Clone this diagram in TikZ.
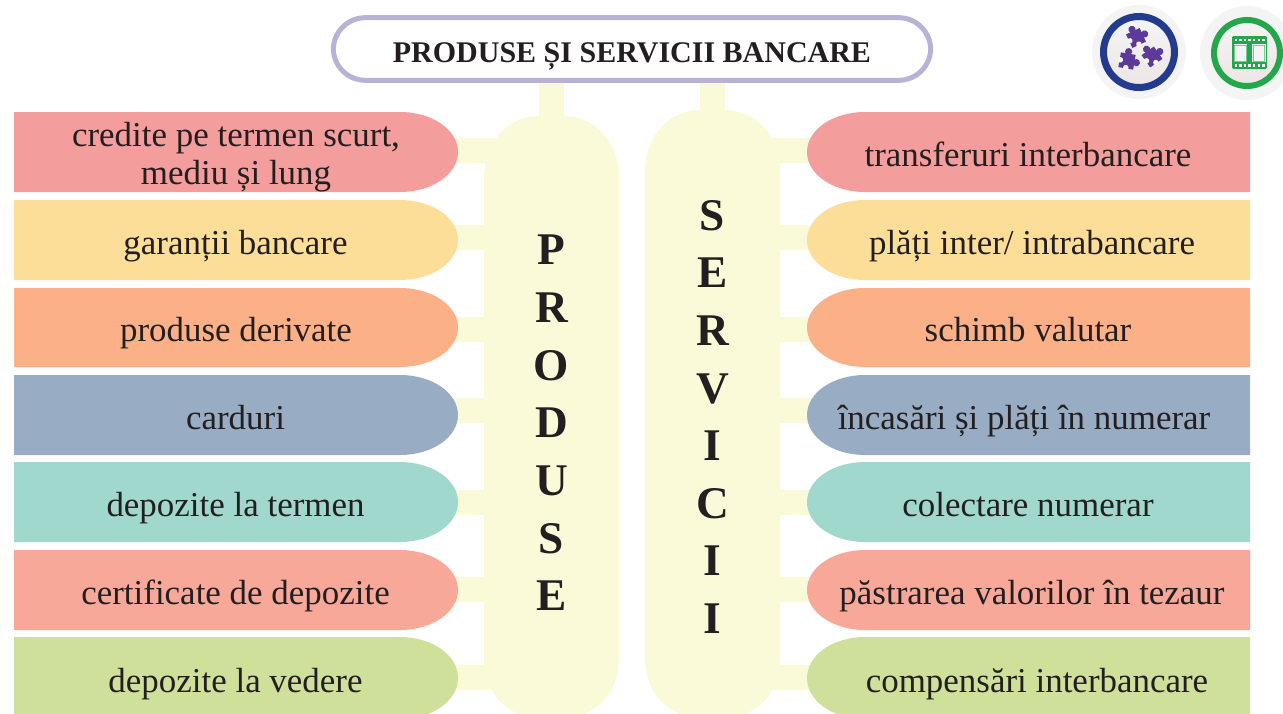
\documentclass[tikz,border=0pt]{standalone}
\usepackage{fontspec}
\setmainfont{Liberation Serif}
\definecolor{cream}{HTML}{FAFAD8}
\definecolor{frameL}{HTML}{B8B3D6}
\definecolor{cRed}{HTML}{F39D9C}
\definecolor{cYel}{HTML}{FDDE99}
\definecolor{cOra}{HTML}{FBB088}
\definecolor{cBlu}{HTML}{98ADC3}
\definecolor{cTea}{HTML}{A0D8CE}
\definecolor{cSal}{HTML}{F8A899}
\definecolor{cGrn}{HTML}{CFE09A}
\definecolor{ink}{HTML}{231F20}
\definecolor{purp}{HTML}{5B3A9B}
\definecolor{blueR}{HTML}{233B8F}
\definecolor{greenR}{HTML}{22A84B}
\definecolor{discTop}{HTML}{F4F4F4}
\definecolor{discBot}{HTML}{EDE6E6}
\tikzset{
  x=0.75pt,y=-0.75pt,
  label text/.style={font=\fontsize{26.2}{28.5}\selectfont,text=ink,align=center,inner sep=0pt,anchor=center,text height=19.5pt,text depth=0pt},
  letter/.style={font=\fontsize{34}{36}\selectfont\bfseries,text=ink,inner sep=0pt,anchor=base},
  link/.style={draw=cream,line width=18.75pt},
}
\newcommand{\leftpill}[7][1]{% text y offset, name, top, bottom, colour, text x, text
  \fill[#5] (14,#3) -- (400,#3) .. controls (432,#3) and (458,{#3+(#4-#3)*0.22}) .. (458,{(#3+#4)/2})
    .. controls (458,{#4-(#4-#3)*0.22}) and (432,#4) .. (400,#4) -- (14,#4) -- cycle;
  \node[label text] (#2) at (#6,{(#3+#4)/2+#1}) {#7};
}
\newcommand{\rightpill}[6]{%
  \fill[#4] (1250,#2) -- (865,#2) .. controls (833,#2) and (807,{#2+(#3-#2)*0.22}) .. (807,{(#2+#3)/2})
    .. controls (807,{#3-(#3-#2)*0.22}) and (833,#3) .. (865,#3) -- (1250,#3) -- cycle;
  \node[label text] (#1) at (#5,{(#2+#3)/2+1}) {#6};
}
\newcommand{\puzzle}[3]{% x y rot
  \begin{scope}[shift={(#1,#2)},rotate=#3]
    \fill[purp] (-7.5,-7.5) rectangle (7.5,7.5);
    \fill[purp] (0,-9.5) circle[radius=3.6];
    \fill[purp] (9.5,0) circle[radius=3.6];
    \fill[discTop] (0,6.8) circle[radius=2.8];
    \fill[discTop] (-6.8,0) circle[radius=2.8];
  \end{scope}
}
\begin{document}
\begin{tikzpicture}
\useasboundingbox (0,0) rectangle (1283,714);
\begin{scope}
\clip (0,0) rectangle (1283,714);
% stems
\coordinate (stemLa) at (551.5,80);
\coordinate (stemLb) at (551.5,125);
\coordinate (stemRa) at (712.5,80);
\coordinate (stemRb) at (712.5,120);
\draw[link] (stemLa) -- (stemLb);
\draw[link] (stemRa) -- (stemRb);
% capsules
\fill[cream] (539,116) .. controls (508,116) and (484,142) .. (484,178) -- (484,657)
  .. controls (484,693) and (508,718) .. (539,718) -- (564,718)
  .. controls (595,718) and (619,693) .. (619,657) -- (619,178)
  .. controls (619,142) and (595,116) .. (564,116) -- cycle;
\fill[cream] (700,110) .. controls (669,110) and (645,136) .. (645,172) -- (645,657)
  .. controls (645,693) and (669,718) .. (700,718) -- (725,718)
  .. controls (756,718) and (780,693) .. (780,657) -- (780,172)
  .. controls (780,136) and (756,110) .. (725,110) -- cycle;
% links
\foreach \n/\y in {a/150.5,b/237.5,c/329.5,d/410.5,e/502.5,f/589.5,g/677.5}{
  \coordinate (L\n) at (450,\y);
  \coordinate (Lp\n) at (500,\y);
  \coordinate (R\n) at (815,\y);
  \coordinate (Rp\n) at (765,\y);
  \draw[link] (L\n) -- (Lp\n);
  \draw[link] (R\n) -- (Rp\n);
}
% pills
\leftpill[19.5]{l1}{112}{192}{cRed}{236}{credite pe termen scurt,\\mediu și lung}
\leftpill{l2}{200}{280}{cYel}{235.5}{garanții bancare}
\leftpill{l3}{288}{367}{cOra}{236}{produse derivate}
\leftpill{l4}{375}{455}{cBlu}{235.5}{carduri}
\leftpill{l5}{462}{542}{cTea}{235.5}{depozite la termen}
\leftpill{l6}{550}{630}{cSal}{235.5}{certificate de depozite}
\leftpill{l7}{637}{719}{cGrn}{235.5}{depozite la vedere}
\rightpill{r1}{112}{192}{cRed}{1028}{transferuri interbancare}
\rightpill{r2}{200}{280}{cYel}{1032}{plăți inter/ intrabancare}
\rightpill{r3}{288}{367}{cOra}{1028}{schimb valutar}
\rightpill{r4}{375}{455}{cBlu}{1024}{încasări și plăți în numerar}
\rightpill{r5}{462}{542}{cTea}{1028}{colectare numerar}
\rightpill{r6}{550}{630}{cSal}{1032}{păstrarea valorilor în tezaur}
\rightpill{r7}{637}{719}{cGrn}{1037}{compensări interbancare}
% title
\node[draw=frameL,line width=3.75pt,fill=white,rounded corners=24pt,minimum width=448pt,minimum height=47pt,inner sep=0pt,
  text height=19.5pt,text depth=0pt,
  font=\fontsize{22.5}{26}\selectfont\bfseries,text=ink] (title) at (632,49) {PRODUSE ȘI SERVICII BANCARE};
% letters
\foreach \ch/\y [count=\i] in {P/264,R/322,O/380,D/437,U/495,S/553,E/610}{
  \node[letter] (p\i) at (551.5,\y) {\ch};
}
\foreach \ch/\y [count=\i] in {S/230,E/287,R/345,V/403,I/460,C/518,I/575,I/633}{
  \node[letter] (s\i) at (712.5,\y) {\ch};
}
% icons
\shade[top color=discTop,bottom color=discTop] (1139,52) circle[radius=47];
\shade[top color=discTop,bottom color=discBot] (1139,52) circle[radius=33];
\draw[blueR,line width=5.25pt] (1139,52) circle[radius=35.5];
\puzzle{1136}{38}{25}
\puzzle{1127}{61}{-10}
\puzzle{1152}{57}{35}
\shade[top color=discTop,bottom color=discTop] (1247,53) circle[radius=47];
\shade[top color=discTop,bottom color=discBot] (1247,53) circle[radius=31];
\draw[greenR,line width=4.5pt] (1247,53) circle[radius=33];
\fill[greenR,rounded corners=1pt] (1232,36) rectangle (1267,69);
\fill[discTop] (1233.5,44) rectangle (1247,62);
\fill[discTop] (1252,44) rectangle (1265.5,62);
\draw[greenR!60,line width=0.4pt] (1234.5,45) rectangle (1246,61);
\draw[greenR!60,line width=0.4pt] (1253,45) rectangle (1264.5,61);
\foreach \i in {0,...,6}{
  \fill[white] ({1234.5+\i*4.6},38.5) rectangle ({1237+\i*4.6},41);
  \fill[white] ({1234.5+\i*4.6},64) rectangle ({1237+\i*4.6},66.5);
}
\end{scope}
\end{tikzpicture}
\end{document}
